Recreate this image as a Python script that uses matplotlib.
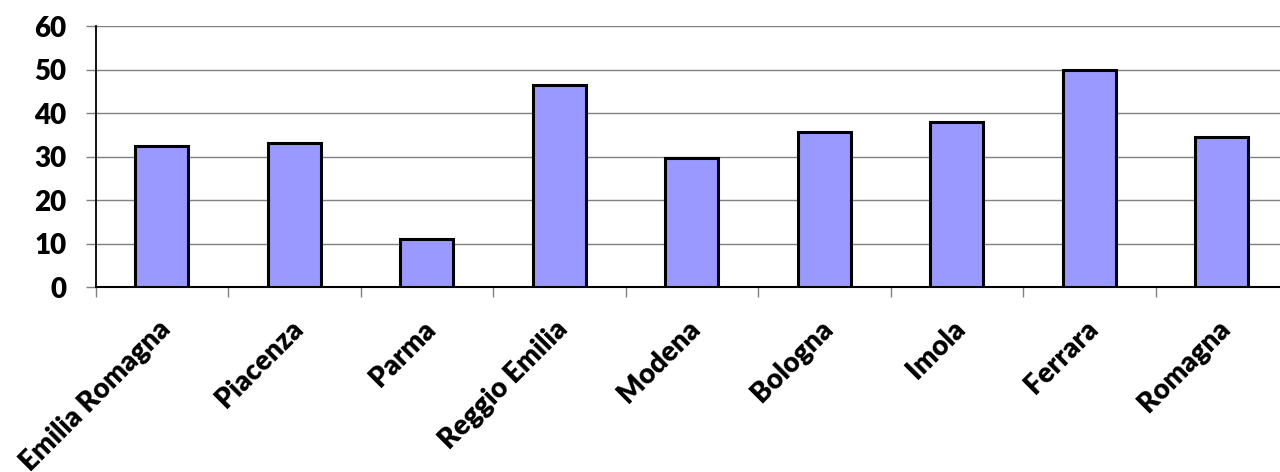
import matplotlib
matplotlib.use("Agg")
import matplotlib.pyplot as plt
import matplotlib.transforms as mtransforms

categories = ["Emilia Romagna", "Piacenza", "Parma", "Reggio Emilia", "Modena",
              "Bologna", "Imola", "Ferrara", "Romagna"]
values = [32.4, 33.2, 11.2, 46.6, 29.7, 35.6, 37.9, 49.9, 34.5]
y_ticks = [0, 10, 20, 30, 40, 50, 60]

plt.rcParams["font.family"] = ["Lato", "DejaVu Sans"]

fig = plt.figure(figsize=(12.8, 4.72), dpi=100)
ax = fig.add_axes([0.0748, 0.3913, 0.9315, 0.553])

x = list(range(len(categories)))
ax.bar(x, values, width=0.40, color="#9999FF", edgecolor="black",
       linewidth=2.2, zorder=3)

ax.set_xlim(-0.5, len(categories) - 0.5)
ax.set_ylim(0, 60)
ax.set_yticks(y_ticks)
ax.set_yticklabels([str(v) for v in y_ticks], fontsize=20, fontweight="heavy")
ax.yaxis.grid(True, color="#808080", linewidth=1.0, zorder=0)
ax.set_axisbelow(True)

# category ticks sit between the bars
ax.set_xticks([i - 0.5 for i in x])
ax.set_xticklabels([])
ax.tick_params(axis="x", direction="out", length=7.2, width=1, color="#808080")
ax.tick_params(axis="y", direction="out", length=7.2, width=1, color="#808080",
               pad=14)

for spine in ["top", "right"]:
    ax.spines[spine].set_visible(False)
ax.spines["left"].set_linewidth(1.3)
ax.spines["bottom"].set_linewidth(1.5)

offset = mtransforms.ScaledTranslation(3 / 72, -27 / 72, fig.dpi_scale_trans)
for i, name in zip(x, categories):
    ax.text(i, 0, name, rotation=45, rotation_mode="anchor", ha="right",
            va="center", fontsize=20, fontweight="heavy",
            transform=ax.transData + offset, clip_on=False)

fig.savefig("out.png", dpi=100)
